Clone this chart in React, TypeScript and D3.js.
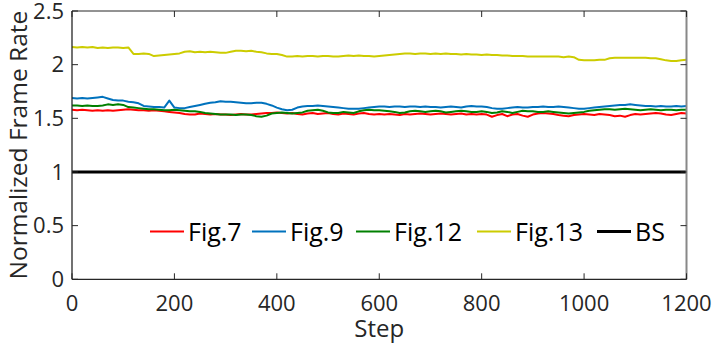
import React from "react";
import * as d3 from "d3";

const steps: number[] = d3.range(0, 1201, 10);

const fig7: number[] = [
  1.58, 1.575, 1.58, 1.575, 1.57, 1.575, 1.57, 1.575, 1.57, 1.575,
  1.58, 1.585, 1.58, 1.575, 1.575, 1.57, 1.575, 1.57, 1.565, 1.56,
  1.555, 1.55, 1.54, 1.535, 1.535, 1.545, 1.54, 1.535, 1.54, 1.535,
  1.535, 1.53, 1.535, 1.54, 1.535, 1.535, 1.54, 1.545, 1.55, 1.55,
  1.555, 1.55, 1.545, 1.55, 1.54, 1.535, 1.545, 1.55, 1.54, 1.545,
  1.55, 1.54, 1.535, 1.545, 1.54, 1.535, 1.545, 1.55, 1.54, 1.535,
  1.54, 1.535, 1.54, 1.535, 1.53, 1.54, 1.535, 1.54, 1.545, 1.54,
  1.535, 1.54, 1.545, 1.54, 1.535, 1.54, 1.545, 1.535, 1.54, 1.535,
  1.54, 1.535, 1.515, 1.53, 1.54, 1.52, 1.535, 1.54, 1.525, 1.515,
  1.535, 1.545, 1.55, 1.545, 1.54, 1.53, 1.525, 1.52, 1.53, 1.535,
  1.54, 1.535, 1.53, 1.54, 1.535, 1.53, 1.52, 1.525, 1.515, 1.53,
  1.54, 1.535, 1.54, 1.545, 1.55, 1.545, 1.535, 1.53, 1.54, 1.55,
  1.545,
];

const fig9: number[] = [
  1.69, 1.685, 1.69, 1.685, 1.69, 1.695, 1.7, 1.685, 1.67, 1.665,
  1.665, 1.655, 1.65, 1.64, 1.615, 1.61, 1.605, 1.605, 1.6, 1.665,
  1.6, 1.595, 1.595, 1.605, 1.615, 1.625, 1.635, 1.645, 1.65, 1.66,
  1.655, 1.655, 1.65, 1.645, 1.64, 1.64, 1.645, 1.645, 1.635, 1.62,
  1.6, 1.585, 1.575, 1.58, 1.6, 1.61, 1.615, 1.615, 1.62, 1.615,
  1.61, 1.605, 1.6, 1.595, 1.59, 1.59, 1.59, 1.595, 1.6, 1.605,
  1.61, 1.61, 1.605, 1.61, 1.61, 1.605, 1.61, 1.61, 1.605, 1.61,
  1.605, 1.605, 1.6, 1.605, 1.61, 1.605, 1.6, 1.61, 1.615, 1.61,
  1.61, 1.605, 1.595, 1.59, 1.59, 1.595, 1.6, 1.605, 1.6, 1.6,
  1.605, 1.605, 1.61, 1.605, 1.605, 1.61, 1.605, 1.6, 1.595, 1.59,
  1.59, 1.595, 1.6, 1.605, 1.61, 1.615, 1.62, 1.625, 1.625, 1.63,
  1.625, 1.62, 1.615, 1.615, 1.61, 1.615, 1.61, 1.61, 1.615, 1.61,
  1.615,
];

const fig12: number[] = [
  1.62, 1.62, 1.615, 1.62, 1.615, 1.615, 1.62, 1.63, 1.625, 1.63,
  1.625, 1.605, 1.6, 1.595, 1.59, 1.585, 1.585, 1.58, 1.575, 1.575,
  1.58, 1.575, 1.57, 1.565, 1.565, 1.56, 1.55, 1.545, 1.54, 1.535,
  1.535, 1.535, 1.53, 1.535, 1.535, 1.53, 1.52, 1.515, 1.525, 1.545,
  1.55, 1.555, 1.55, 1.545, 1.55, 1.555, 1.57, 1.575, 1.58, 1.57,
  1.555, 1.55, 1.55, 1.56, 1.555, 1.55, 1.565, 1.575, 1.58, 1.575,
  1.575, 1.57, 1.565, 1.56, 1.55, 1.555, 1.565, 1.57, 1.565, 1.56,
  1.565, 1.57, 1.565, 1.555, 1.56, 1.565, 1.57, 1.565, 1.56, 1.56,
  1.565, 1.56, 1.55, 1.555, 1.565, 1.56, 1.55, 1.56, 1.57, 1.565,
  1.565, 1.56, 1.56, 1.565, 1.56, 1.555, 1.55, 1.545, 1.55, 1.555,
  1.56, 1.57, 1.575, 1.58, 1.585, 1.585, 1.58, 1.585, 1.59, 1.585,
  1.58, 1.575, 1.58, 1.585, 1.58, 1.575, 1.58, 1.58, 1.575, 1.58,
  1.58,
];

const fig13: number[] = [
  2.165, 2.16, 2.165, 2.16, 2.165, 2.155, 2.16, 2.155, 2.16, 2.16,
  2.155, 2.16, 2.1, 2.1, 2.105, 2.1, 2.08, 2.085, 2.09, 2.095,
  2.1, 2.105, 2.12, 2.125, 2.115, 2.12, 2.115, 2.12, 2.115, 2.11,
  2.11, 2.12, 2.13, 2.13, 2.125, 2.13, 2.12, 2.115, 2.105, 2.1,
  2.1, 2.09, 2.075, 2.075, 2.08, 2.075, 2.08, 2.08, 2.075, 2.08,
  2.08, 2.075, 2.075, 2.08, 2.085, 2.08, 2.085, 2.08, 2.08, 2.075,
  2.08, 2.085, 2.09, 2.095, 2.1, 2.105, 2.105, 2.1, 2.105, 2.105,
  2.1, 2.105, 2.1, 2.105, 2.1, 2.1, 2.095, 2.1, 2.095, 2.095,
  2.09, 2.095, 2.09, 2.09, 2.085, 2.085, 2.08, 2.08, 2.08, 2.075,
  2.075, 2.075, 2.075, 2.075, 2.075, 2.075, 2.07, 2.075, 2.07, 2.045,
  2.04, 2.04, 2.04, 2.045, 2.045, 2.06, 2.065, 2.065, 2.065, 2.065,
  2.065, 2.065, 2.065, 2.06, 2.06, 2.05, 2.04, 2.035, 2.035, 2.04,
  2.045,
];

const bsSteps: number[] = [0, 1200];
const bsValues: number[] = [1, 1];

const xTicks: number[] = [0, 200, 400, 600, 800, 1000, 1200];
const yTicks: number[] = [0, 0.5, 1, 1.5, 2, 2.5];
const legendLabels: string[] = ["Fig.7", "Fig.9", "Fig.12", "Fig.13", "BS"];

const W = 713;
const H = 349;
const M = { left: 72, right: 26.5, top: 11, bottom: 69.7 };
const FONT = "'Open Sans', 'Noto Sans', sans-serif";
const AX = "#262626";

export default function App() {
  const x = d3.scaleLinear().domain([0, 1200]).range([M.left, W - M.right]);
  const y = d3.scaleLinear().domain([0, 2.5]).range([H - M.bottom, M.top]);
  const line = d3
    .line<[number, number]>()
    .x((d) => x(d[0]))
    .y((d) => y(d[1]));

  const series = [
    { name: legendLabels[0], color: "#FF0000", data: fig7, w: 2 },
    { name: legendLabels[1], color: "#0072BD", data: fig9, w: 2 },
    { name: legendLabels[2], color: "#008000", data: fig12, w: 2 },
    { name: legendLabels[3], color: "#CCCC00", data: fig13, w: 2 },
  ];

  const x0 = x.range()[0];
  const x1 = x.range()[1];
  const y0 = y.range()[0];
  const y1 = y.range()[1];
  const tl = 6;

  const legendX = [150, 252, 356, 477, 597];
  const legendColors = ["#FF0000", "#0072BD", "#008000", "#CCCC00", "#000000"];
  const legendY = 231.5;

  return (
    <svg
      width={W}
      height={H}
      style={{ position: "absolute", left: 0, top: 0, background: "#fff" }}
      fontFamily={FONT}
    >
      <rect x={0} y={0} width={W} height={H} fill="#fff" />
      {series.map((s) => (
        <path
          key={s.name}
          d={line(s.data.map((v, i) => [steps[i], v] as [number, number])) || ""}
          fill="none"
          stroke={s.color}
          strokeWidth={s.w}
          strokeLinejoin="round"
        />
      ))}
      <path
        d={line(bsValues.map((v, i) => [bsSteps[i], v] as [number, number])) || ""}
        fill="none"
        stroke="#000"
        strokeWidth={3}
      />
      {/* box */}
      <line x1={x0} x2={x1} y1={y1} y2={y1} stroke={AX} strokeWidth={1} />
      <line x1={x1} x2={x1} y1={y1} y2={y0} stroke="#888" strokeWidth={2} />
      <line x1={x0} x2={x1} y1={y0} y2={y0} stroke={AX} strokeWidth={1.3} />
      <line x1={x0} x2={x0} y1={y1} y2={y0} stroke={AX} strokeWidth={1.3} />
      {xTicks.map((t) => (
        <g key={"xt" + t}>
          <line x1={x(t)} x2={x(t)} y1={y0} y2={y0 - tl} stroke={AX} />
          <line x1={x(t)} x2={x(t)} y1={y1} y2={y1 + tl} stroke={AX} />
          <text x={x(t)} y={y0 + 32} textAnchor="middle" fontSize={22} fill={AX}>
            {t}
          </text>
        </g>
      ))}
      {yTicks.map((t) => (
        <g key={"yt" + t}>
          <line x1={x0} x2={x0 + tl} y1={y(t)} y2={y(t)} stroke={AX} />
          <line x1={x1} x2={x1 - tl} y1={y(t)} y2={y(t)} stroke={AX} />
          <text
            x={x0 - 8}
            y={y(t)}
            dy="0.35em"
            textAnchor="end"
            fontSize={22}
            fill={AX}
          >
            {t}
          </text>
        </g>
      ))}
      <text
        x={(x0 + x1) / 2}
        y={337}
        textAnchor="middle"
        fontSize={24}
        fill={AX}
      >
        Step
      </text>
      <text
        transform={`translate(26.5, ${(y0 + y1) / 2}) rotate(-90)`}
        textAnchor="middle"
        fontSize={24.5}
        fill={AX}
      >
        Normalized Frame Rate
      </text>
      {legendLabels.map((l, i) => (
        <g key={"lg" + l}>
          <line
            x1={legendX[i]}
            x2={legendX[i] + 34}
            y1={legendY}
            y2={legendY}
            stroke={legendColors[i]}
            strokeWidth={i === 4 ? 3 : 2}
          />
          <text
            x={legendX[i] + 38}
            y={legendY + 9.5}
            fontSize={25}
            fill="#000"
          >
            {l}
          </text>
        </g>
      ))}
    </svg>
  );
}
